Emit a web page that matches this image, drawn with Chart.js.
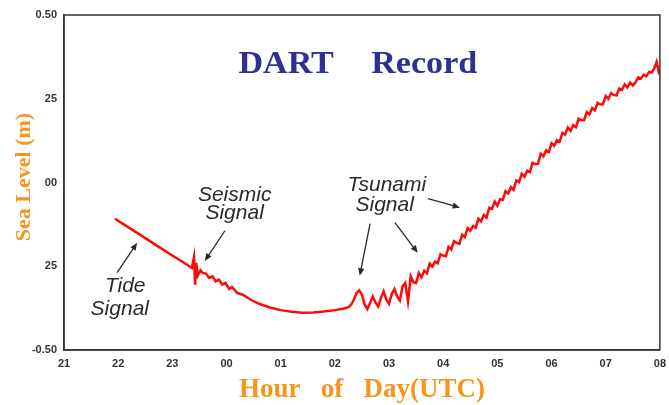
<!DOCTYPE html>
<html lang="en">
<head>
  <meta charset="UTF-8">
  <title>DART Record</title>
  <script src="https://cdn.jsdelivr.net/npm/chart.js"></script>
  <style>
    body { margin: 0; background: #fff; }
    #wrap { width: 669px; height: 405px; }
  </style>
</head>
<body>
  <div id="wrap"><canvas id="dart"></canvas></div>
  <script>
    // hours since 21:00 UTC
    const hours = [
      0.94, 1.30, 1.70, 2.00, 2.20, 2.36, 2.40, 2.42, 2.44, 2.47, 2.52, 2.56, 2.62, 2.68, 2.74,
      2.80, 2.86, 2.92, 2.98, 3.05, 3.10, 3.20, 3.30, 3.45, 3.60, 3.80, 4.00, 4.20, 4.40, 4.60,
      4.80, 5.00, 5.15,
      5.25, 5.30, 5.35, 5.40, 5.45, 5.50, 5.55, 5.60, 5.65, 5.70, 5.75, 5.80, 5.85, 5.90, 5.95,
      6.00, 6.05, 6.10, 6.15, 6.20, 6.25, 6.30, 6.35, 6.40, 6.45, 6.50, 6.55, 6.60, 6.65, 6.70,
      6.75, 6.80, 6.85, 6.90, 6.95, 7.00, 7.05, 7.10, 7.15, 7.20, 7.25, 7.30, 7.35, 7.40, 7.45,
      7.50, 7.55, 7.60, 7.65, 7.70, 7.75, 7.80, 7.85, 7.90, 7.95, 8.00, 8.05, 8.10, 8.15, 8.20,
      8.25, 8.30, 8.35, 8.40, 8.45, 8.50, 8.55, 8.60, 8.65, 8.70, 8.75, 8.80, 8.85, 8.90, 8.95,
      9.00, 9.05, 9.10, 9.15, 9.20, 9.25, 9.30, 9.35, 9.40, 9.45, 9.50, 9.55, 9.60, 9.65, 9.70,
      9.75, 9.80, 9.85, 9.90, 9.95, 10.00, 10.05, 10.10, 10.15, 10.20, 10.25, 10.30, 10.35, 10.40,
      10.45, 10.50, 10.55, 10.60, 10.65, 10.70, 10.75, 10.80, 10.85, 10.90, 10.94, 10.99
    ];
    // sea level (m)
    const seaLevel = [
      -0.108, -0.145, -0.187, -0.218, -0.238, -0.255, -0.222, -0.305, -0.240, -0.278, -0.262, -0.270, -0.272, -0.285, -0.280,
      -0.295, -0.290, -0.305, -0.300, -0.318, -0.312, -0.330, -0.335, -0.350, -0.362, -0.373, -0.381, -0.386, -0.389, -0.388,
      -0.385, -0.381, -0.377,
      -0.372, -0.365, -0.350, -0.330, -0.322, -0.335, -0.365, -0.378, -0.360, -0.340, -0.358, -0.370, -0.345, -0.325, -0.350,
      -0.362, -0.333, -0.318, -0.340, -0.352, -0.310, -0.300, -0.355, -0.280, -0.298, -0.300, -0.270, -0.283, -0.263, -0.271,
      -0.242, -0.251, -0.236, -0.241, -0.214, -0.218, -0.220, -0.192, -0.200, -0.175, -0.180, -0.183, -0.156, -0.163, -0.136,
      -0.144, -0.130, -0.135, -0.108, -0.116, -0.097, -0.105, -0.076, -0.079, -0.057, -0.069, -0.050, -0.052, -0.026, -0.033,
      -0.014, -0.022, 0.006, 0.001, 0.026, 0.017, 0.035, 0.031, 0.059, 0.055, 0.056, 0.086, 0.078, 0.096, 0.091,
      0.117, 0.110, 0.126, 0.122, 0.148, 0.143, 0.164, 0.154, 0.171, 0.165, 0.190, 0.186, 0.186, 0.210, 0.203,
      0.222, 0.215, 0.238, 0.233, 0.234, 0.258, 0.250, 0.267, 0.261, 0.260, 0.281, 0.277, 0.293, 0.284,
      0.298, 0.289, 0.299, 0.314, 0.310, 0.322, 0.317, 0.330, 0.328, 0.342, 0.360, 0.322
    ];
    const hourLabels = ['21', '22', '23', '00', '01', '02', '03', '04', '05', '06', '07', '08'];
    const levelTicks = [-0.5, -0.25, 0, 0.25, 0.5];
    const levelLabels = ['-0.50', '25', '00', '25', '0.50'];

    // text and arrows drawn on top, placed in data units
    const notes = [
      { text: 'Tide', h: 1.13, v: -0.308 },
      { text: 'Signal', h: 1.03, v: -0.377 },
      { text: 'Seismic', h: 3.15, v: -0.039 },
      { text: 'Signal', h: 3.15, v: -0.093 },
      { text: 'Tsunami', h: 5.96, v: -0.009 },
      { text: 'Signal', h: 5.92, v: -0.069 }
    ];
    const arrows = [
      { from: [0.98, -0.269], to: [1.35, -0.180] },
      { from: [2.97, -0.144], to: [2.60, -0.234] },
      { from: [5.65, -0.123], to: [5.46, -0.278] },
      { from: [6.11, -0.120], to: [6.53, -0.210] },
      { from: [6.72, -0.048], to: [7.31, -0.075] }
    ];
    const titleWords = [
      { text: 'DART', h: 4.10, v: 0.326 },
      { text: 'Record', h: 6.65, v: 0.326 }
    ];

    const overlay = {
      id: 'overlay',
      afterDraw(chart) {
        const { ctx, chartArea: a, scales: { x, y } } = chart;
        ctx.save();
        // frame
        ctx.strokeStyle = '#333';
        ctx.lineWidth = 1.5;
        ctx.strokeRect(a.left, a.top, a.right - a.left, a.bottom - a.top);

        // title inside the plot, slightly wide lettering
        ctx.fillStyle = '#2e3192';
        ctx.font = 'bold 31px "Liberation Serif", serif';
        ctx.textAlign = 'center';
        ctx.textBaseline = 'alphabetic';
        titleWords.forEach(w => {
          ctx.save();
          ctx.translate(x.getPixelForValue(w.h), y.getPixelForValue(w.v));
          ctx.scale(1.1, 1);
          ctx.fillText(w.text, 0, 0);
          ctx.restore();
        });

        ctx.fillStyle = '#2a2a2a';
        ctx.textBaseline = 'middle';
        ctx.font = 'italic 21px "Liberation Sans", Arial, sans-serif';
        notes.forEach(n => ctx.fillText(n.text, x.getPixelForValue(n.h), y.getPixelForValue(n.v)));

        ctx.strokeStyle = '#2a2a2a';
        ctx.lineWidth = 1.3;
        arrows.forEach(ar => {
          const x0 = x.getPixelForValue(ar.from[0]), y0 = y.getPixelForValue(ar.from[1]);
          const x1 = x.getPixelForValue(ar.to[0]), y1 = y.getPixelForValue(ar.to[1]);
          const ang = Math.atan2(y1 - y0, x1 - x0);
          ctx.beginPath();
          ctx.moveTo(x0, y0);
          ctx.lineTo(x1 - 6 * Math.cos(ang), y1 - 6 * Math.sin(ang));
          ctx.stroke();
          ctx.beginPath();
          ctx.moveTo(x1, y1);
          ctx.lineTo(x1 - 8 * Math.cos(ang - 0.4), y1 - 8 * Math.sin(ang - 0.4));
          ctx.lineTo(x1 - 8 * Math.cos(ang + 0.4), y1 - 8 * Math.sin(ang + 0.4));
          ctx.closePath();
          ctx.fillStyle = '#2a2a2a';
          ctx.fill();
        });
        ctx.restore();
      }
    };

    const tickFont = { family: '"Liberation Sans", Arial, sans-serif', size: 11, weight: 'bold' };
    const titleFont = { family: '"Liberation Serif", "Times New Roman", serif', weight: 'bold' };

    new Chart(document.getElementById('dart'), {
      type: 'line',
      data: {
        datasets: [{
          label: 'Sea Level (m)',
          data: hours.map((h, i) => ({ x: h, y: seaLevel[i] })),
          borderColor: '#ff0a0a',
          borderWidth: 2.5,
          pointRadius: 0,
          tension: 0,
          fill: false
        }]
      },
      options: {
        responsive: true,
        maintainAspectRatio: false,
        animation: false,
        layout: { padding: { top: 15, right: 6, left: 0, bottom: 0 } },
        plugins: { legend: { display: false }, tooltip: { enabled: false } },
        scales: {
          x: {
            type: 'linear',
            min: 0,
            max: 11,
            afterFit: s => { s.height = 55; },
            afterBuildTicks: s => { s.ticks = hourLabels.map((_, i) => ({ value: i })); },
            grid: { display: false, drawOnChartArea: false, tickLength: 4, color: '#333' },
            border: { color: '#333', width: 1.5 },
            ticks: { color: '#333', font: tickFont, padding: 3, maxRotation: 0, autoSkip: false,
                     callback: v => hourLabels[v] },
            title: { display: true, text: 'Hour   of   Day(UTC)', color: '#f7941d',
                     font: { ...titleFont, size: 27, lineHeight: 1.1 }, padding: { top: 0, bottom: 0 } }
          },
          y: {
            min: -0.5,
            max: 0.5,
            afterFit: s => { s.width = 64; },
            afterBuildTicks: s => { s.ticks = levelTicks.map(v => ({ value: v })); },
            grid: { display: false, drawOnChartArea: false, tickLength: 5, color: '#333' },
            border: { color: '#333', width: 1.5 },
            ticks: { color: '#333', font: tickFont, padding: 2,
                     callback: (v, i) => levelLabels[i] },
            title: { display: true, text: '  Sea Level (m)', color: '#f7941d',
                     font: { ...titleFont, size: 22 }, padding: { top: 11, bottom: 0 } }
          }
        }
      },
      plugins: [overlay]
    });
  </script>
</body>
</html>
